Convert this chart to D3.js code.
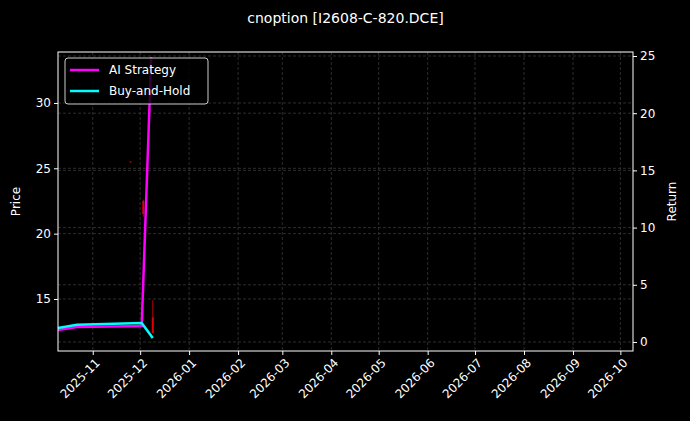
<!DOCTYPE html>
<html>
<head>
    <meta charset="utf-8">
    <script src="https://d3js.org/d3.v7.min.js"></script>
    <style>
        html, body { margin: 0; background: #000; }
        text { font-family: "DejaVu Sans", sans-serif; fill: #fff; }
    </style>
</head>
<body>
    <svg id="svg"></svg>
    <script>
        // candles: date, open, high, low, close
        const candleDates = ["2025-11-25", "2025-12-03", "2025-12-09"];
        const candleOpen = [25.5, 22.5, 13.6];
        const candleHigh = [25.55, 22.6, 14.9];
        const candleLow = [25.45, 21.3, 12.4];
        const candleClose = [25.45, 21.5, 12.4];

        const aiDates = ["2025-10-10", "2025-10-22", "2025-12-02", "2025-12-08"];
        const aiReturn = [1.05, 1.3, 1.4, 24.9];
        const bhDates = ["2025-10-10", "2025-10-22", "2025-12-02", "2025-12-09"];
        const bhReturn = [1.22, 1.5, 1.66, 0.35];

        const priceTicks = [15, 20, 25, 30];
        const returnTicks = [0, 5, 10, 15, 20, 25];

        const W = 690, H = 421;
        const m = { top: 52, left: 58, right: 57, bottom: 70 };
        const parse = d3.timeParse("%Y-%m-%d");

        const svg = d3.select("#svg").attr("width", W).attr("height", H);

        const x = d3.scaleTime()
        .domain([parse("2025-10-10"), parse("2026-10-09")])
        .range([m.left, W - m.right]);
        const yPrice = d3.scaleLinear().domain([11.02, 33.9]).range([H - m.bottom, m.top]);
        const yRet = d3.scaleLinear().domain([-0.79, 25.35]).range([H - m.bottom, m.top]);

        const monthTicks = d3.timeMonth.range(parse("2025-11-01"), parse("2026-10-02"));

        // grid
        const grid = svg.append("g").attr("stroke", "#4a4a4a").attr("stroke-width", 0.6).attr("stroke-dasharray", "3,2");
        grid.selectAll(".gx").data(monthTicks).enter().append("line")
        .attr("x1", d => x(d)).attr("x2", d => x(d))
        .attr("y1", m.top).attr("y2", H - m.bottom);
        grid.selectAll(".gy").data(priceTicks).enter().append("line")
        .attr("x1", m.left).attr("x2", W - m.right)
        .attr("y1", d => yPrice(d)).attr("y2", d => yPrice(d));
        grid.selectAll(".gr").data(returnTicks).enter().append("line")
        .attr("x1", m.left).attr("x2", W - m.right)
        .attr("y1", d => yRet(d)).attr("y2", d => yRet(d));

        // candles
        const candles = candleDates.map((d, i) => ({
            date: parse(d), o: candleOpen[i], h: candleHigh[i], l: candleLow[i], c: candleClose[i]
        }));
        const cg = svg.append("g");
        cg.selectAll("line").data(candles).enter().append("line")
        .attr("x1", d => x(d.date)).attr("x2", d => x(d.date))
        .attr("y1", d => yPrice(d.h)).attr("y2", d => yPrice(d.l))
        .attr("stroke", "#e00000").attr("stroke-width", 0.8);
        cg.selectAll("rect").data(candles).enter().append("rect")
        .attr("x", d => x(d.date) - 1).attr("width", 2)
        .attr("y", d => yPrice(Math.max(d.o, d.c)))
        .attr("height", d => Math.max(0.5, yPrice(Math.min(d.o, d.c)) - yPrice(Math.max(d.o, d.c))))
        .attr("fill", "#e00000");

        const line = d3.line().x(d => x(d[0])).y(d => yRet(d[1]));
        svg.append("path")
        .datum(aiDates.map((d, i) => [parse(d), aiReturn[i]]))
        .attr("d", line).attr("fill", "none").attr("stroke", "#ff00ff").attr("stroke-width", 2.5);
        svg.append("path")
        .datum(bhDates.map((d, i) => [parse(d), bhReturn[i]]))
        .attr("d", line).attr("fill", "none").attr("stroke", "#00ffff").attr("stroke-width", 2.5);

        // frame
        svg.append("rect").attr("x", m.left).attr("y", m.top)
        .attr("width", W - m.left - m.right).attr("height", H - m.top - m.bottom)
        .attr("fill", "none").attr("stroke", "#fff").attr("stroke-width", 1);

        // axes
        const xAxis = svg.append("g").attr("transform", `translate(0,${H - m.bottom})`)
        .call(d3.axisBottom(x).tickValues(monthTicks).tickFormat(d3.timeFormat("%Y-%m")).tickSize(4));
        xAxis.selectAll("text")
        .attr("transform", "rotate(-45)").attr("text-anchor", "end")
        .attr("dx", "-0.3em").attr("dy", "0.6em");

        const yAxisL = svg.append("g").attr("transform", `translate(${m.left},0)`)
        .call(d3.axisLeft(yPrice).tickValues(priceTicks).tickSize(4));
        const yAxisR = svg.append("g").attr("transform", `translate(${W - m.right},0)`)
        .call(d3.axisRight(yRet).tickValues(returnTicks).tickSize(4));
        [xAxis, yAxisL, yAxisR].forEach(a => {
            a.attr("color", "#fff");
            a.select(".domain").remove();
            a.selectAll("text").style("font-size", "12px").style("font-family", "DejaVu Sans");
        });

        const midY = (m.top + H - m.bottom) / 2;
        svg.append("text").attr("x", 20).attr("y", midY)
        .attr("transform", `rotate(-90,20,${midY})`)
        .attr("text-anchor", "middle").style("font-size", "12px").text("Price");
        svg.append("text").attr("x", W - 14).attr("y", midY)
        .attr("transform", `rotate(-90,${W - 14},${midY})`)
        .attr("text-anchor", "middle").style("font-size", "12px").text("Return");

        svg.append("text").attr("x", (m.left + W - m.right) / 2).attr("y", 23)
        .attr("text-anchor", "middle").style("font-size", "14px").text("cnoption [I2608-C-820.DCE]");

        // legend
        const lg = svg.append("g").attr("transform", "translate(65,58)");
        lg.append("rect").attr("width", 143).attr("height", 46).attr("rx", 3)
        .attr("fill", "#000").attr("fill-opacity", 0.8).attr("stroke", "#ccc");
        [["AI Strategy", "#ff00ff"], ["Buy-and-Hold", "#00ffff"]].forEach((d, i) => {
            lg.append("line").attr("x1", 5).attr("x2", 34).attr("y1", 12 + i * 21).attr("y2", 12 + i * 21)
            .attr("stroke", d[1]).attr("stroke-width", 2.5);
            lg.append("text").attr("x", 44).attr("y", 16 + i * 21).style("font-size", "12px").text(d[0]);
        });
    </script>
</body>
</html>
